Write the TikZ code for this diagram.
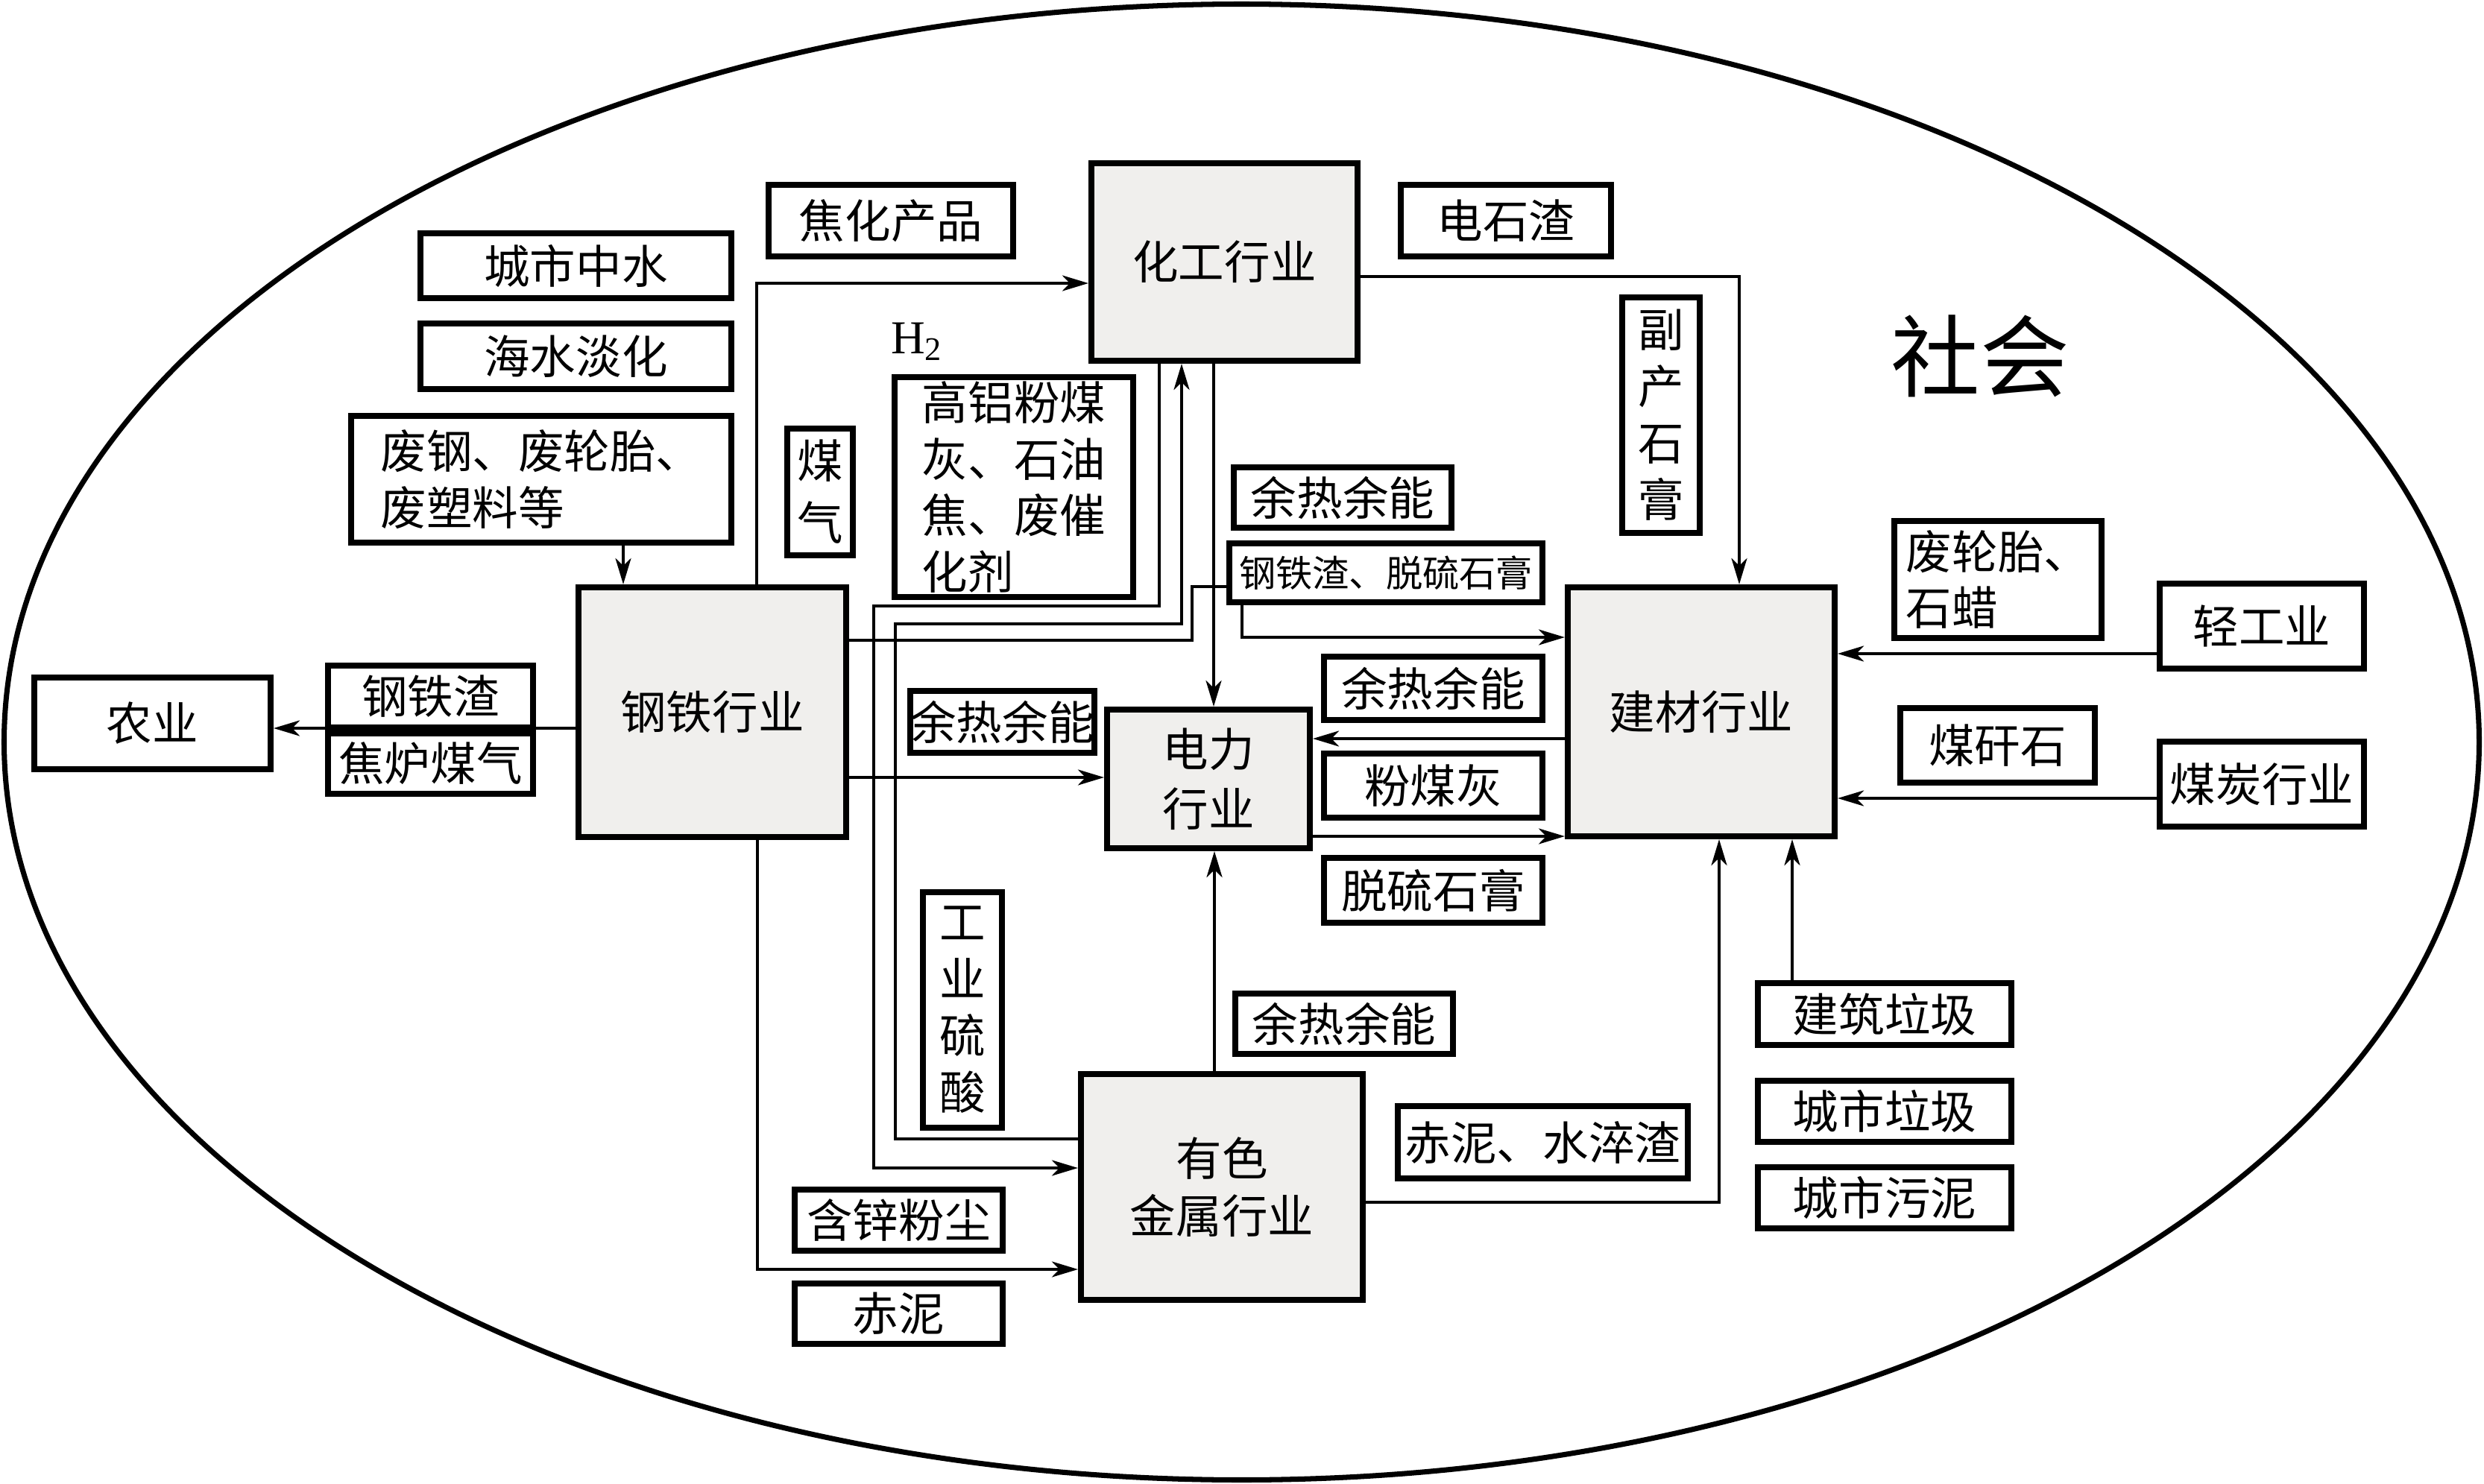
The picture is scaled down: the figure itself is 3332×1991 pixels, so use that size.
\documentclass[tikz,border=0pt]{standalone}
\usepackage{fontspec}
\setmainfont{Noto Sans CJK SC}
\newfontfamily\seriffont{Liberation Serif}
\usetikzlibrary{arrows.meta}
\definecolor{boxgray}{RGB}{240,239,237}
\newcommand{\bx}[7]{\node[#6, minimum width={(#4-#2-8)*0.01cm}, minimum height={(#5-#3-8)*0.01cm}] (#1) at ({(#2+#4)/2},{(#3+#5)/2}) {#7};}
\tikzset{
  ind/.style={draw, line width=2.3pt, fill=boxgray, inner sep=0pt, align=center, font=\fontsize{17.5}{22.8}\selectfont},
  lab/.style={draw, line width=2.3pt, fill=white, inner sep=0pt, align=center, font=\fontsize{17.5}{21.6}\selectfont},
  conn/.style={line width=1.1pt},
  arr/.style={conn, -{Stealth[length=3.5mm,width=2.1mm,inset=1mm]}},
}
\begin{document}
\begin{tikzpicture}[x=0.01cm, y=-0.01cm]
\useasboundingbox (0,0) rectangle (3332,1991);
% society ellipse
\draw[line width=2pt] (1665.5,995.5) ellipse [x radius=1660, y radius=990];
\node (sh) at (2656,478) {\fontsize{34}{40}\selectfont 社会};

% industries
\bx{hg}{1460}{215}{1825}{488}{ind}{化工行业}
\bx{gt}{772}{784}{1139}{1127}{ind}{钢铁行业}
\bx{dl}{1481}{948}{1761}{1142}{ind}{电力\\行业}
\bx{jc}{2099}{784}{2465}{1126}{ind}{建材行业}
\bx{ys}{1446}{1437}{1832}{1748}{ind, font=\fontsize{17.5}{21.8}\selectfont}{有色\\金属行业}

% outer sectors
\bx{ny}{42}{905}{367}{1036}{lab}{农业}
\bx{qg}{2893}{779}{3175}{901}{lab}{轻工业}
\bx{mt}{2893}{991}{3175}{1113}{lab}{煤炭行业}

% label boxes
\bx{jh}{1027}{244}{1363}{348}{lab}{焦化产品}
\bx{cs}{560}{309}{985}{404}{lab}{城市中水}
\bx{hs}{560}{430}{985}{526}{lab}{海水淡化}
\bx{fg}{467}{554}{985}{732}{lab, align=left}{废钢、废轮胎、\\废塑料等}
\bx{ds}{1875}{244}{2165}{348}{lab}{电石渣}
\bx{gl}{1196}{502}{1524}{805}{lab, align=left}{高铝粉煤\\灰、石油\\焦、废催\\化剂}
\bx{mq}{1052}{571}{1148}{749}{lab, font=\fontsize{17.5}{23.6}\selectfont}{煤\\气}
\bx{gz}{436}{889}{719}{980}{lab}{钢铁渣}
\bx{jl}{436}{980}{719}{1069}{lab}{焦炉煤气}
\bx{yra}{1651}{623}{1951}{712}{lab}{余热余能}
\bx{gj}{1645}{725}{2073}{812}{lab, font=\fontsize{14}{17}\selectfont}{钢铁渣、脱硫石膏}
\bx{fc}{2172}{395}{2284}{719}{lab}{副\\产\\石\\膏}
\bx{yrb}{1217}{923}{1472}{1014}{lab}{余热余能}
\bx{yrc}{1772}{877}{2073}{970}{lab}{余热余能}
\bx{fm}{1772}{1007}{2073}{1101}{lab}{粉煤灰}
\bx{tl}{1772}{1147}{2073}{1242}{lab}{脱硫石膏}
\bx{fl}{2537}{695}{2823}{860}{lab, align=left}{废轮胎、\\石蜡}
\bx{mg}{2545}{946}{2814}{1054}{lab}{煤矸石}
\bx{gy}{1234}{1193}{1348}{1517}{lab}{工\\业\\硫\\酸}
\bx{yrd}{1653}{1329}{1953}{1418}{lab}{余热余能}
\bx{hx}{1062}{1592}{1349}{1682}{lab}{含锌粉尘}
\bx{cn}{1062}{1718}{1349}{1807}{lab}{赤泥}
\bx{cz}{1871}{1480}{2268}{1585}{lab}{赤泥、水淬渣}
\bx{jz}{2354}{1315}{2702}{1406}{lab}{建筑垃圾}
\bx{cl}{2354}{1446}{2702}{1536}{lab}{城市垃圾}
\bx{cw}{2354}{1562}{2702}{1652}{lab}{城市污泥}
\node (h2) at (1230,458) {\fontsize{18}{20}\seriffont H\textsubscript{2}};

% connectors
\draw[arr] (836,0 |- fg.south) -- (836,0 |- gt.north);
\draw[arr] (1015,0 |- gt.north) |- (hg.west |- 0,380);
\draw[arr] (gt.west |- 0,977) -- (ny.east |- 0,977);
\draw[arr] (gt.east |- 0,1043) -- (dl.west |- 0,1043);
\draw[arr] (1016,0 |- gt.south) |- (ys.west |- 0,1703);
\draw[arr] (1555,0 |- hg.south) |- (1172,813) |- (ys.west |- 0,1567);
\draw[arr] (ys.west |- 0,1528) -| (1201,837) -| (1585,0 |- hg.south);
\draw[arr] (1628,0 |- hg.south) -- (1628,0 |- dl.north);
\draw[conn] (gt.east |- 0,859) -| (1599,787) -- (gj.west |- 0,787);
\draw[arr] (1666,0 |- gj.south) |- (jc.west |- 0,855);
\draw[arr] (hg.east |- 0,371) -| (2333,0 |- jc.north);
\draw[arr] (jc.west |- 0,991) -- (dl.east |- 0,991);
\draw[arr] (dl.east |- 0,1122) -- (jc.west |- 0,1122);
\draw[arr] (1629,0 |- ys.north) -- (1629,0 |- dl.south);
\draw[arr] (ys.east |- 0,1613) -| (2306,0 |- jc.south);
\draw[arr] (2404,0 |- jz.north) -- (2404,0 |- jc.south);
\draw[arr] (qg.west |- 0,877) -- (jc.east |- 0,877);
\draw[arr] (mt.west |- 0,1071) -- (jc.east |- 0,1071);
\end{tikzpicture}
\end{document}
